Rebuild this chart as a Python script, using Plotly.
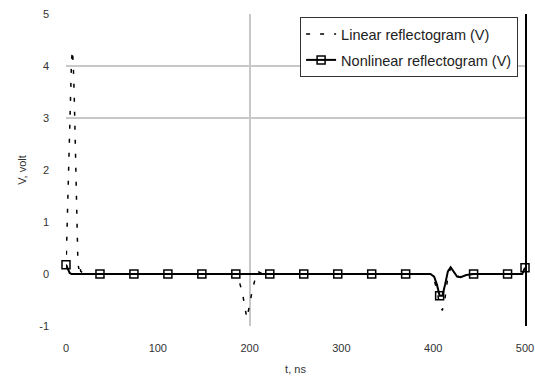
import plotly.graph_objects as go

# ---------------- data ----------------
# Linear reflectogram (V)
lin_t = [0, 1, 2, 3, 4, 5, 6, 7, 8, 9, 10, 11, 12, 13, 14, 15, 16, 20,
         184, 188, 192, 195, 197, 200, 203, 206, 209, 214,
         396, 400, 404, 407, 410, 413, 416, 419, 423, 428, 434, 440, 500]
lin_v = [0.1, 0.8, 1.6, 2.4, 3.1, 3.7, 4.1, 4.3, 4.0, 3.4, 2.7, 1.7, 0.8, 0.2, 0.1, 0.2, 0.05, 0.0,
         0.0, -0.1, -0.35, -0.7, -0.85, -0.6, -0.3, -0.1, 0.05, 0.0,
         0.0, -0.05, -0.3, -0.6, -0.7, -0.45, -0.05, 0.12, 0.02, -0.06, -0.02, 0.0, 0.0]

# Nonlinear reflectogram (V) - full trace
nl_t = [0, 2, 4, 6, 37, 74, 111, 148, 185, 222, 259, 296, 333, 370,
        397, 401, 404, 407, 410, 413, 416, 419, 422, 426, 430, 436,
        444, 481, 497, 500]
nl_v = [0.18, 0.1, 0.02, 0.0, 0.0, 0.0, 0.0, 0.0, 0.0, 0.0, 0.0, 0.0, 0.0, 0.0,
        0.0, -0.05, -0.2, -0.42, -0.42, -0.2, 0.05, 0.13, 0.05, -0.05, -0.06, -0.02,
        0.0, 0.0, 0.0, 0.12]

# Nonlinear reflectogram markers (sampled points)
nl_mark_t = [0, 37, 74, 111, 148, 185, 222, 259, 296, 333, 370, 407, 444, 481, 500]
nl_mark_v = [0.18, 0.0, 0.0, 0.0, 0.0, 0.0, 0.0, 0.0, 0.0, 0.0, 0.0, -0.42, 0.0, 0.0, 0.12]

x_ticks = [0, 100, 200, 300, 400, 500]
y_ticks = [-1, 0, 1, 2, 3, 4, 5]
x_grid = [200]
y_grid = [3, 4]

# ---------------- figure ----------------
fig = go.Figure()

fig.add_trace(go.Scatter(
    x=lin_t, y=lin_v, mode="lines", name="Linear reflectogram (V)",
    line=dict(color="black", width=1.5, dash="4px,10px"),
    legendrank=1, legendgroup="a",
))
fig.add_trace(go.Scatter(
    x=nl_t, y=nl_v, mode="lines", showlegend=False,
    line=dict(color="black", width=2),
))
fig.add_trace(go.Scatter(
    x=nl_mark_t, y=nl_mark_v, mode="markers", showlegend=False,
    marker=dict(symbol="square-open", size=8, color="black", line=dict(width=1.5)),
    cliponaxis=False,
))
# legend entry for the nonlinear series, also anchors the overlay grid axes
fig.add_trace(go.Scatter(
    x=[None], y=[None], mode="lines+markers", name="Nonlinear reflectogram (V)",
    line=dict(color="black", width=2),
    marker=dict(symbol="square-open", size=8, color="black", line=dict(width=1.5)),
    xaxis="x2", yaxis="y2", legendrank=2, legendgroup="b",
))

tick_font = dict(family="Liberation Sans, Arial, sans-serif", size=11, color="#333")

fig.update_layout(
    width=535, height=377,
    margin=dict(l=66, r=10, t=14, b=51, autoexpand=False),
    paper_bgcolor="white", plot_bgcolor="white",
    font=dict(family="Liberation Sans, Arial, sans-serif", color="#222"),
    showlegend=True,
    legend=dict(
        x=0.51, y=0.99, xanchor="left", yanchor="top",
        bgcolor="white", bordercolor="#333", borderwidth=1,
        font=dict(size=14.5, color="#222"),
        itemwidth=30, traceorder="grouped", tracegroupgap=4,
    ),
    xaxis=dict(
        range=[0, 500], tickmode="array", tickvals=x_ticks,
        ticktext=[str(v) for v in x_ticks], automargin=False,
        showgrid=False, zeroline=False, showline=False, ticks="",
        tickfont=tick_font, ticklabelstandoff=14,
        title=dict(text="t, ns", font=dict(size=11, color="#333"), standoff=12),
    ),
    yaxis=dict(
        range=[-1, 5], tickmode="array", tickvals=y_ticks,
        ticktext=[str(v) for v in y_ticks], automargin=False,
        showgrid=False, zeroline=False, showline=False, ticks="",
        tickfont=tick_font, ticklabelstandoff=16,
        title=dict(text="V, volt", font=dict(size=11, color="#333"), standoff=10),
    ),
    xaxis2=dict(
        overlaying="x", range=[0, 500], tickmode="array", tickvals=x_grid,
        showgrid=True, gridcolor="#c8c8c8", gridwidth=2, automargin=False,
        showticklabels=False, zeroline=False, showline=False, ticks="",
    ),
    yaxis2=dict(
        overlaying="y", side="right", range=[-1, 5], tickmode="array", tickvals=y_grid,
        showgrid=True, gridcolor="#c8c8c8", gridwidth=2, automargin=False,
        showticklabels=False, zeroline=False,
        showline=True, linecolor="black", linewidth=2, ticks="",
    ),
)

fig.write_html("out.html")
